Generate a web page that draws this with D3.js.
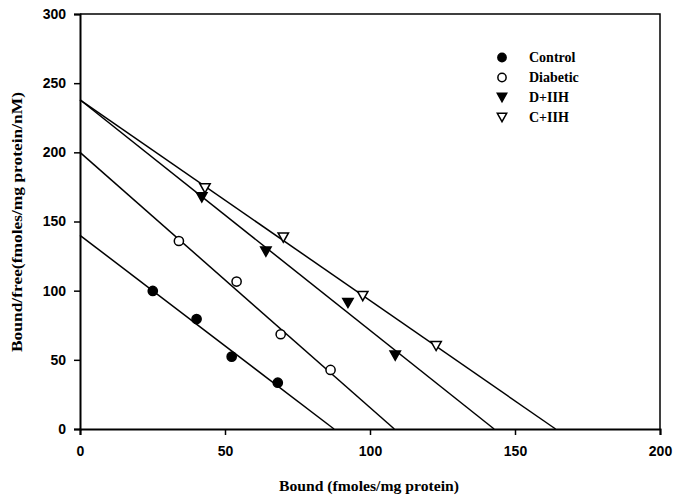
<!DOCTYPE html>
<html>
<head>
<meta charset="utf-8">
<script src="https://cdn.jsdelivr.net/npm/d3@7/dist/d3.min.js"></script>
<style>
  html, body { margin: 0; padding: 0; background: #fff; }
  svg { display: block; }
  .tick text { font-family: "Liberation Sans", Arial, sans-serif; font-weight: bold; font-size: 14px; fill: #000; }
  .title { font-family: "Liberation Serif", "Times New Roman", serif; font-weight: bold; fill: #000; }
</style>
</head>
<body>
<svg id="chart" width="679" height="498"></svg>
<script>
// Scatchard plot: bound vs bound/free for four groups
const seriesNames = ["Control", "Diabetic", "D+IIH", "C+IIH"];
const seriesSymbols = ["circle-filled", "circle-open", "tri-filled", "tri-open"];

const controlBound = [25.1, 40.2, 52.3, 68.2];
const controlRatio = [99.8, 79.5, 52.3, 33.5];
const diabeticBound = [34.1, 54.0, 69.2, 86.4];
const diabeticRatio = [135.9, 106.6, 68.5, 42.7];
const dIIHBound = [42.0, 64.1, 92.4, 108.7];
const dIIHRatio = [167.5, 128.2, 91.1, 53.1];
const cIIHBound = [43.1, 70.1, 97.5, 122.8];
const cIIHRatio = [174.0, 138.4, 96.1, 60.0];

// fitted lines: y-intercept (Bound/free) and x-intercept (Bmax)
const lineYIntercepts = [140, 200, 238, 238];
const lineXIntercepts = [87.6, 108.4, 142.8, 164.0];

const xTicks = [0, 50, 100, 150, 200];
const yTicks = [0, 50, 100, 150, 200, 250, 300];

const boundSets = [controlBound, diabeticBound, dIIHBound, cIIHBound];
const ratioSets = [controlRatio, diabeticRatio, dIIHRatio, cIIHRatio];

const margin = { left: 80, right: 19, top: 14, bottom: 69 };
const W = 679, H = 498;
const svg = d3.select("#chart");

const x = d3.scaleLinear().domain([0, 200]).range([margin.left, W - margin.right]);
const y = d3.scaleLinear().domain([0, 300]).range([H - margin.bottom, margin.top]);

// frame (top and right)
svg.append("path")
  .attr("d", `M${x(0)},${y(300)}H${x(200)}V${y(0)}`)
  .attr("fill", "none").attr("stroke", "#000").attr("stroke-width", 1.5);

const xAxis = svg.append("g")
  .attr("transform", `translate(0,${y(0)})`)
  .call(d3.axisBottom(x).tickValues(xTicks).tickSize(6).tickPadding(8).tickFormat(d3.format("d")));
const yAxis = svg.append("g")
  .attr("transform", `translate(${x(0)},0)`)
  .call(d3.axisLeft(y).tickValues(yTicks).tickSize(6).tickPadding(8).tickFormat(d3.format("d")));
[xAxis, yAxis].forEach(g => {
  g.select(".domain").attr("stroke", "#000").attr("stroke-width", 2);
  g.selectAll(".tick line").attr("stroke", "#000").attr("stroke-width", 1.5);
});
xAxis.selectAll(".tick text").attr("dy", "0.9em");

// regression lines
const lineGen = d3.line().x(d => x(d[0])).y(d => y(d[1]));
lineYIntercepts.forEach((b, i) => {
  svg.append("path")
    .attr("d", lineGen([[0, b], [lineXIntercepts[i], 0]]))
    .attr("fill", "none").attr("stroke", "#000").attr("stroke-width", 1.5);
});

// marker drawing
function drawSymbol(g, kind, cx, cy, s = 1) {
  if (kind.startsWith("circle")) {
    g.append("circle").attr("cx", cx).attr("cy", cy).attr("r", 4.6 * s)
      .attr("fill", kind === "circle-filled" ? "#000" : "#fff")
      .attr("stroke", "#000").attr("stroke-width", 1.5);
  } else {
    const w = 5.2 * s, h = 4.6 * s;
    g.append("path")
      .attr("d", `M${cx - w},${cy - h}L${cx + w},${cy - h}L${cx},${cy + h}Z`)
      .attr("fill", kind === "tri-filled" ? "#000" : "#fff")
      .attr("stroke", "#000").attr("stroke-width", 1.5).attr("stroke-linejoin", "miter");
  }
}

const pts = svg.append("g");
boundSets.forEach((xs, i) => {
  xs.forEach((bv, j) => drawSymbol(pts, seriesSymbols[i], x(bv), y(ratioSets[i][j])));
});

// legend
const legend = svg.append("g");
seriesNames.forEach((name, i) => {
  const ly = 57.5 + i * 20;
  drawSymbol(legend, seriesSymbols[i], 502, ly, 0.9);
  legend.append("text").attr("class", "title")
    .attr("x", 529).attr("y", ly).attr("dy", "0.35em")
    .style("font-size", "14px").text(name);
});

// axis titles
svg.append("text").attr("class", "title")
  .attr("x", 369).attr("y", 491).attr("text-anchor", "middle")
  .attr("textLength", 180).attr("lengthAdjust", "spacingAndGlyphs")
  .style("font-size", "15px").text("Bound (fmoles/mg protein)");
svg.append("text").attr("class", "title")
  .attr("transform", `translate(22,222) rotate(-90)`).attr("text-anchor", "middle")
  .attr("textLength", 260).attr("lengthAdjust", "spacingAndGlyphs")
  .style("font-size", "15px").text("Bound/free(fmoles/mg protein/nM)");
</script>
</body>
</html>
